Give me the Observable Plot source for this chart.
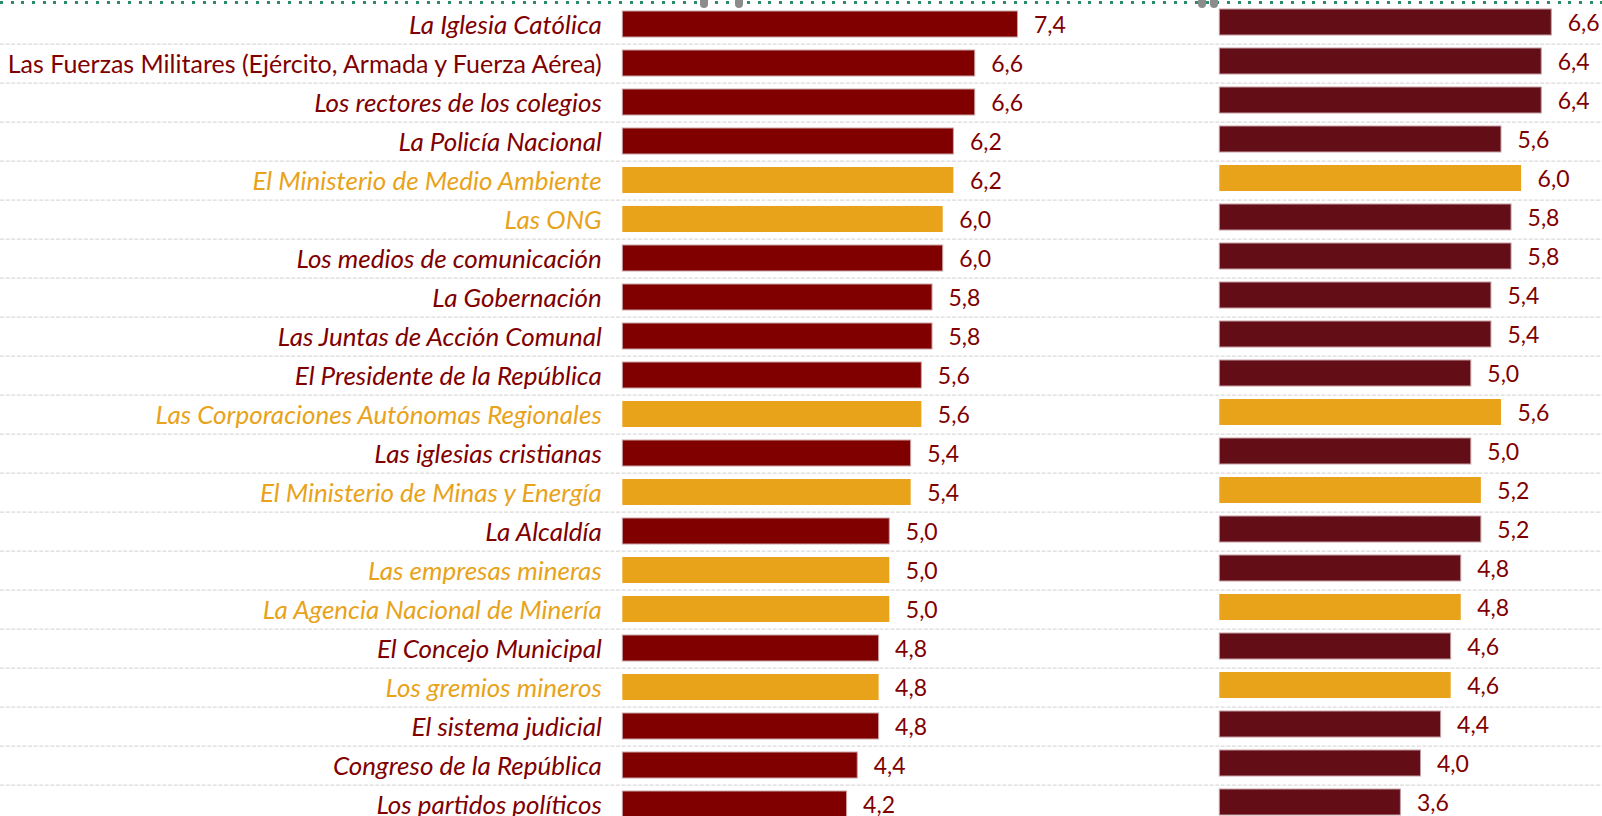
<!DOCTYPE html>
<html>
<head>
<meta charset="utf-8">
<script src="https://cdn.jsdelivr.net/npm/d3@7"></script>
<script src="https://cdn.jsdelivr.net/npm/@observablehq/plot@0.6"></script>
<style>
  html, body { margin: 0; padding: 0; background: #fff; }
  #wrap { position: relative; width: 1602px; height: 816px; overflow: hidden; background: #fff; }
  #wrap svg { position: absolute; left: 0; top: 0; }
  .sel { position: absolute; left: 0; top: 1px; width: 1602px; height: 3px;
         background-image: repeating-linear-gradient(to right, #2f8a67 0, #2f8a67 3px, transparent 3px, transparent 10.67px); }
  .handle { position: absolute; top: -4px; width: 8px; height: 12px; border-radius: 4px; background: #8c8c8c; }
</style>
</head>
<body>
<div id="wrap"></div>
<script>
// ---- data ----
const categories = [
  "La Iglesia Católica",
  "Las Fuerzas Militares (Ejército, Armada y Fuerza Aérea)",
  "Los rectores de los colegios",
  "La Policía Nacional",
  "El Ministerio de Medio Ambiente",
  "Las ONG",
  "Los medios de comunicación",
  "La Gobernación",
  "Las Juntas de Acción Comunal",
  "El Presidente de la República",
  "Las Corporaciones Autónomas Regionales",
  "Las iglesias cristianas",
  "El Ministerio de Minas y Energía",
  "La Alcaldía",
  "Las empresas mineras",
  "La Agencia Nacional de Minería",
  "El Concejo Municipal",
  "Los gremios mineros",
  "El sistema judicial",
  "Congreso de la República",
  "Los partidos políticos"
];
const leftValues  = [7.4, 6.6, 6.6, 6.2, 6.2, 6.0, 6.0, 5.8, 5.8, 5.6, 5.6, 5.4, 5.4, 5.0, 5.0, 5.0, 4.8, 4.8, 4.8, 4.4, 4.2];
const rightValues = [6.6, 6.4, 6.4, 5.6, 6.0, 5.8, 5.8, 5.4, 5.4, 5.0, 5.6, 5.0, 5.2, 5.2, 4.8, 4.8, 4.6, 4.6, 4.4, 4.0, 3.6];
// "m" = minero-ambiental highlighted, "g" = general
const leftGroup  = ["g","g","g","g","m","m","g","g","g","g","m","g","m","g","m","m","g","m","g","g","g"];
const rightGroup = ["g","g","g","g","m","g","g","g","g","g","m","g","m","g","g","m","g","m","g","g","g"];

const left  = categories.map((name, i) => ({name, value: leftValues[i],  group: leftGroup[i]}));
const right = categories.map((name, i) => ({name, value: rightValues[i], group: rightGroup[i]}));

const fmt = v => d3.format(".1f")(v).replace(".", ",");
const FONT = "Lato, 'Open Sans', sans-serif";
const ORANGE = "#E8A31A";
const RED = "#800000";
const MAROON = "#630E17";
const LABEL = "#800000";
const PAD = 0.34;

// left panel
const lStep = 39.2, lC0 = 22;
const lR0 = lC0 - lStep * (1 - PAD) / 2 - PAD * lStep;
const lR1 = lR0 + lStep * (categories.length + PAD);
const lX0 = 622.3, lK = 53.4;

const leftPlot = Plot.plot({
  width: 1602, height: 816, margin: 0,
  style: {background: "transparent", overflow: "visible"},
  x: {domain: [0, 8], range: [lX0, lX0 + lK * 8], axis: null},
  y: {domain: categories, range: [lR0, lR1], padding: PAD, axis: null},
  marks: [
    Plot.ruleY(categories.slice(0, -1), {y: d => d, dy: lStep / 2, stroke: "#dadada", strokeWidth: 1.2, strokeDasharray: "4,1.6"}),
    Plot.barX(left.filter(d => d.group === "g"), {x: "value", y: "name", fill: RED, stroke: "#c9a3a6", strokeWidth: 1}),
    Plot.barX(left.filter(d => d.group === "m"), {x: "value", y: "name", fill: ORANGE}),
    Plot.text(left.filter(d => !d.name.startsWith("Las Fuerzas")), {
      x: 0, y: "name", text: "name", textAnchor: "end", dx: -21, dy: 1,
      fill: d => d.group === "m" ? ORANGE : LABEL,
      fontFamily: FONT, fontSize: 26, fontStyle: "italic"
    }),
    Plot.text(left.filter(d => d.name.startsWith("Las Fuerzas")), {
      x: 0, y: "name", text: "name", textAnchor: "end", dx: -21, dy: 1,
      fill: LABEL, fontFamily: FONT, fontSize: 25
    }),
    Plot.text(left, {x: "value", y: "name", text: d => fmt(d.value), textAnchor: "start", dx: 16, dy: 1,
      fill: LABEL, fontFamily: FONT, fontSize: 23})
  ]
});

// right panel
const rStep = 39.36, rC0 = 18;
const rR0 = rC0 - rStep * (1 - PAD) / 2 - PAD * rStep;
const rR1 = rR0 + rStep * (categories.length + PAD);
const rX0 = 1219.3, rK = 50.3;

const rightPlot = Plot.plot({
  width: 1602, height: 816, margin: 0,
  style: {background: "transparent", overflow: "visible"},
  x: {domain: [0, 7], range: [rX0, rX0 + rK * 7], axis: null},
  y: {domain: categories, range: [rR0, rR1], padding: PAD, axis: null},
  marks: [
    Plot.barX(right.filter(d => d.group === "g"), {x: "value", y: "name", fill: MAROON, stroke: "#c29ea2", strokeWidth: 1}),
    Plot.barX(right.filter(d => d.group === "m"), {x: "value", y: "name", fill: ORANGE}),
    Plot.text(right, {x: "value", y: "name", text: d => fmt(d.value), textAnchor: "start", dx: 16, dy: 1,
      fill: LABEL, fontFamily: FONT, fontSize: 23})
  ]
});

const wrap = document.getElementById("wrap");
wrap.appendChild(leftPlot);
wrap.appendChild(rightPlot);
const sel = document.createElement("div"); sel.className = "sel"; wrap.appendChild(sel);
[[1198], [1210], [700], [735]].forEach(([x]) => {
  const h = document.createElement("div"); h.className = "handle"; h.style.left = x + "px"; wrap.appendChild(h);
});
</script>
</body>
</html>
